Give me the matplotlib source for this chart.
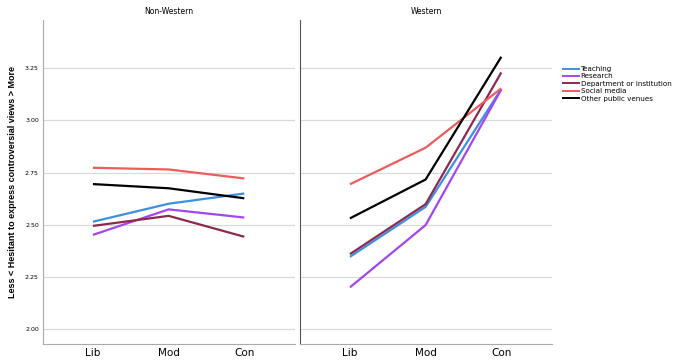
import matplotlib
matplotlib.use("Agg")
import matplotlib.pyplot as plt
from matplotlib.lines import Line2D

categories = ["Lib", "Mod", "Con"]
panels = ["Non-Western", "Western"]
series_names = ["Teaching", "Research", "Department or institution", "Social media", "Other public venues"]
colors = ["#3d8fe3", "#a346f0", "#8c2a4e", "#ef5b5b", "#000000"]

nonwestern_teaching = [2.515, 2.601, 2.650]
nonwestern_research = [2.452, 2.574, 2.535]
nonwestern_dept = [2.495, 2.543, 2.443]
nonwestern_social = [2.773, 2.765, 2.722]
nonwestern_other = [2.695, 2.675, 2.627]

western_teaching = [2.347, 2.586, 3.150]
western_research = [2.201, 2.499, 3.148]
western_dept = [2.360, 2.599, 3.229]
western_social = [2.694, 2.869, 3.153]
western_other = [2.531, 2.717, 3.304]

yticks = [2.00, 2.25, 2.50, 2.75, 3.00, 3.25]

data = {
    "Non-Western": [nonwestern_teaching, nonwestern_research, nonwestern_dept, nonwestern_social, nonwestern_other],
    "Western": [western_teaching, western_research, western_dept, western_social, western_other],
}

fig = plt.figure(figsize=(6.8, 3.62), dpi=100)
ax1 = fig.add_axes([43/680, 1-344/362, 252/680, 324/362])
ax2 = fig.add_axes([300/680, 1-344/362, 252/680, 324/362])

x = list(range(len(categories)))
for ax, panel in zip([ax1, ax2], panels):
    for vals, c, name in zip(data[panel], colors, series_names):
        ax.plot(x, vals, color=c, lw=1.6, label=name, solid_capstyle="butt", zorder=3)
    ax.set_ylim(1.93, 3.48)
    ax.set_xlim(-0.66, 2.67)
    ax.set_yticks(yticks)
    ax.set_yticklabels([f"{t:.2f}" for t in yticks], fontsize=4.5)
    ax.set_xticks(x)
    ax.set_xticklabels(categories, fontsize=7.5, fontweight="medium")
    ax.grid(axis="y", color="#d9d9d9", lw=0.9, zorder=0)
    ax.tick_params(length=0, pad=3)
    ax.set_title(panel, fontsize=5.5, pad=4)
    for s in ["top", "right"]:
        ax.spines[s].set_visible(False)
    ax.spines["bottom"].set_color("#aaaaaa")
    ax.spines["left"].set_color("#aaaaaa")

ax2.tick_params(axis="y", labelleft=False)
ax2.spines["left"].set_color("#555555")

ax1.set_ylabel("Less < Hesitant to express controversial views > More", fontsize=6.5,
               fontweight="bold", family="Liberation Sans")
ax1.yaxis.set_label_coords(-0.105, 0.5)

handles = [Line2D([0], [0], color=c, lw=1.4) for c in colors]
fig.legend(handles, series_names, loc="upper left", bbox_to_anchor=(563/680, 1-66/362),
           frameon=False, fontsize=5.1, handlelength=2.2, handletextpad=0.3,
           labelspacing=0.2, borderpad=0, borderaxespad=0)

fig.savefig("out.png", dpi=100)
